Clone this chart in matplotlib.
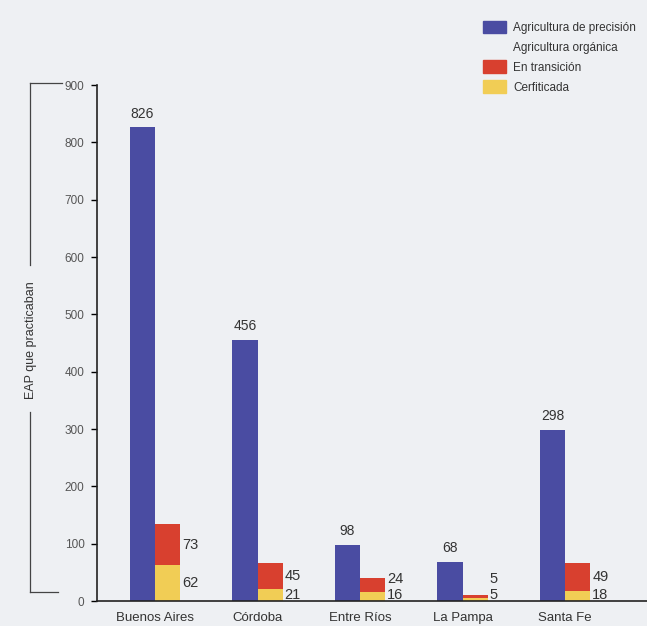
import matplotlib.pyplot as plt
from matplotlib.patches import Patch
from matplotlib.lines import Line2D
import numpy as np

plt.rcParams['font.family'] = ['Liberation Sans Narrow', 'Liberation Sans', 'DejaVu Sans']

provincias = ['Buenos Aires', 'Córdoba', 'Entre Ríos', 'La Pampa', 'Santa Fe']
precision = [826, 456, 98, 68, 298]
transicion = [73, 45, 24, 5, 49]
certificada = [62, 21, 16, 5, 18]

azul = '#4a4ca2'
rojo = '#d8402f'
amarillo = '#f1cd55'
fondo = '#eef0f3'
gris = '#555555'

fig = plt.figure(figsize=(6.47, 6.26), dpi=100, facecolor=fondo)
ax = fig.add_axes([97 / 647, 25 / 626, 550 / 647, 516 / 626])
ax.set_facecolor(fondo)

x = np.arange(len(provincias))
w = 0.245

ax.bar(x - w / 2, precision, w, color=azul)
ax.bar(x + w / 2, certificada, w, color=amarillo)
ax.bar(x + w / 2, transicion, w, bottom=certificada, color=rojo)

# etiquetas de valores
for i in range(len(provincias)):
    ax.text(x[i] - w / 2, precision[i] + 12, str(precision[i]), ha='center',
            va='bottom', fontsize=10, color='#333333')
    yr = max(certificada[i] + transicion[i] / 2, 38)
    yc = max(certificada[i] / 2, 10)
    ax.text(x[i] + w + 0.02, yr, str(transicion[i]), ha='left', va='center',
            fontsize=10.5, color='#333333')
    ax.text(x[i] + w + 0.02, yc, str(certificada[i]), ha='left', va='center',
            fontsize=10.5, color='#333333')

ax.set_xlim(-0.566, 4.80)
ax.set_ylim(0, 900)
ax.set_yticks(range(0, 901, 100))
ax.set_xticks(x)
ax.set_xticklabels(provincias, fontsize=9.5, color='#333333')
ax.tick_params(axis='x', length=0, pad=8)
ax.tick_params(axis='y', length=4, width=1, pad=5, labelsize=8.5, labelcolor=gris)
for s in ['top', 'right']:
    ax.spines[s].set_visible(False)
for s in ['left', 'bottom']:
    ax.spines[s].set_linewidth(1.2)
    ax.spines[s].set_color('#222222')

# corchete del eje y
def fx(px):
    return px / 647

def fy(py):
    return 1 - py / 626

lc = '#444444'
fig.add_artist(Line2D([fx(30), fx(62)], [fy(83), fy(83)], color=lc, lw=0.9))
fig.add_artist(Line2D([fx(30), fx(30)], [fy(83), fy(265)], color=lc, lw=0.9))
fig.add_artist(Line2D([fx(30), fx(30)], [fy(412), fy(592)], color=lc, lw=0.9))
fig.add_artist(Line2D([fx(30), fx(58)], [fy(592), fy(592)], color=lc, lw=0.9))
fig.text(fx(31), fy(340), 'EAP que practicaban', rotation=90, ha='center',
         va='center', fontsize=9, color='#333333')

handles = [Patch(color=azul), Patch(color='none'), Patch(color=rojo), Patch(color=amarillo)]
labels = ['Agricultura de precisión', 'Agricultura orgánica', 'En transición', 'Cerfiticada']
fig.legend(handles, labels, loc='upper left', bbox_to_anchor=(fx(472), fy(10)),
           frameon=False, fontsize=8.5, handlelength=2.0, handleheight=1.3,
           labelspacing=0.55, handletextpad=0.6, labelcolor='#333333')

fig.savefig('out.png', dpi=100, facecolor=fondo)
